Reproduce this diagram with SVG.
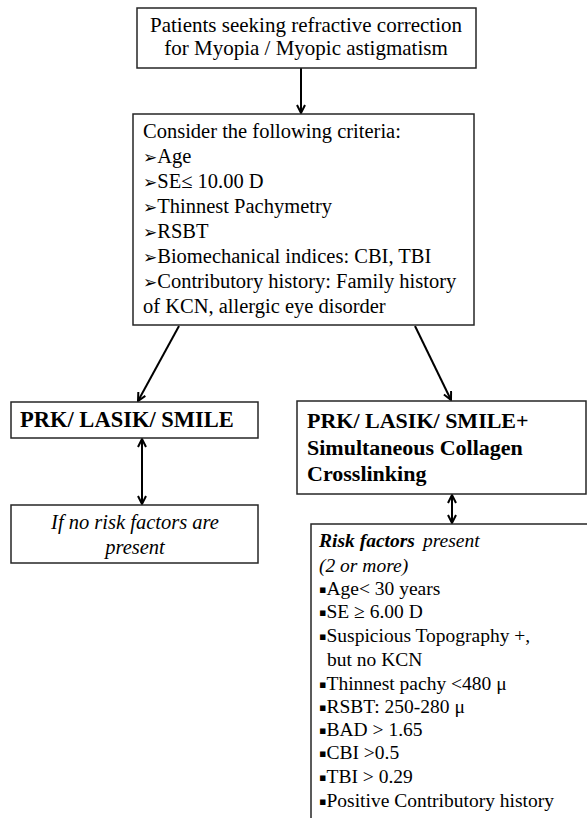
<svg xmlns="http://www.w3.org/2000/svg" width="587" height="818" viewBox="0 0 587 818">
<style>
.box{fill:#fff;stroke:#262626;stroke-width:1.5}
.t{fill:#000}
.b{font-weight:bold}
.i{font-style:italic}
.con{stroke:#000;stroke-width:2;fill:none}
</style>
<defs>
<marker id="ah" viewBox="0 0 10 10" refX="9" refY="5" markerWidth="10" markerHeight="10" markerUnits="userSpaceOnUse" orient="auto-start-reverse">
<path d="M1,1 L9,5 L1,9" fill="none" stroke="#000" stroke-width="2"/>
</marker>
</defs>
<rect width="587" height="818" fill="#fff"/>
<g id="connectors">
<line class="con" x1="301" y1="68" x2="301" y2="113" marker-end="url(#ah)"/>
<line class="con" x1="179" y1="326" x2="138" y2="401" marker-end="url(#ah)"/>
<line class="con" x1="415" y1="326" x2="451" y2="400" marker-end="url(#ah)"/>
<line class="con" x1="142" y1="439" x2="142" y2="504" marker-start="url(#ah)" marker-end="url(#ah)"/>
<line class="con" x1="452" y1="495" x2="452" y2="523" marker-start="url(#ah)" marker-end="url(#ah)"/>
</g>
<g id="start">
<rect class="box" x="137" y="8" width="339" height="60"/>
<text class="t" font-family="'Liberation Serif', 'Times New Roman', 'DejaVu Serif', serif" font-size="21" text-anchor="middle"><tspan x="306" y="32">Patients seeking refractive correction</tspan><tspan x="306" y="55">for Myopia / Myopic astigmatism</tspan></text>
</g>
<g id="criteria">
<rect class="box" x="133" y="114" width="341" height="211"/>
<text class="t" font-family="'Liberation Serif', 'Times New Roman', 'DejaVu Serif', serif" font-size="20.5">
<tspan x="143" y="138">Consider the following criteria:</tspan>
<tspan x="143" y="163"><tspan font-family="'DejaVu Sans', sans-serif" font-size="17">➢</tspan>Age</tspan>
<tspan x="143" y="188"><tspan font-family="'DejaVu Sans', sans-serif" font-size="17">➢</tspan>SE≤ 10.00 D</tspan>
<tspan x="143" y="213"><tspan font-family="'DejaVu Sans', sans-serif" font-size="17">➢</tspan>Thinnest Pachymetry</tspan>
<tspan x="143" y="238"><tspan font-family="'DejaVu Sans', sans-serif" font-size="17">➢</tspan>RSBT</tspan>
<tspan x="143" y="263"><tspan font-family="'DejaVu Sans', sans-serif" font-size="17">➢</tspan>Biomechanical indices: CBI, TBI</tspan>
<tspan x="143" y="288"><tspan font-family="'DejaVu Sans', sans-serif" font-size="17">➢</tspan>Contributory history: Family history</tspan>
<tspan x="143" y="313">of KCN, allergic eye disorder</tspan>
</text>
</g>
<g id="prk">
<rect class="box" x="11" y="402" width="247" height="36"/>
<text class="t b" font-family="'Liberation Serif', 'Times New Roman', 'DejaVu Serif', serif" font-size="22.5" x="20" y="427">PRK/ LASIK/ SMILE</text>
</g>
<g id="prk-cxl">
<rect class="box" x="297" y="401" width="289" height="93"/>
<text class="t b" font-family="'Liberation Serif', 'Times New Roman', 'DejaVu Serif', serif" font-size="22"><tspan x="307" y="428">PRK/ LASIK/ SMILE+</tspan><tspan x="307" y="455">Simultaneous Collagen</tspan><tspan x="307" y="481">Crosslinking</tspan></text>
</g>
<g id="no-risk">
<rect class="box" x="11" y="505" width="247" height="58"/>
<text class="t i" font-family="'Liberation Serif', 'Times New Roman', 'DejaVu Serif', serif" font-size="20.5" text-anchor="middle"><tspan x="135" y="529">If no risk factors are</tspan><tspan x="135" y="554">present</tspan></text>
</g>
<g id="risk">
<rect class="box" x="311" y="524" width="300" height="310"/>
<text class="t" font-family="'Liberation Serif', 'Times New Roman', 'DejaVu Serif', serif" font-size="19.5">
<tspan x="319" y="547" class="b i">Risk factors</tspan><tspan dx="8" class="i">present</tspan>
<tspan x="319" y="572" class="i">(2 or more)</tspan>
<tspan x="319" y="595"><tspan font-family="'DejaVu Sans', sans-serif" font-size="11" dy="-2">▪</tspan><tspan dy="2">Age&lt; 30 years</tspan></tspan>
<tspan x="319" y="618"><tspan font-family="'DejaVu Sans', sans-serif" font-size="11" dy="-2">▪</tspan><tspan dy="2">SE ≥ 6.00 D</tspan></tspan>
<tspan x="319" y="642"><tspan font-family="'DejaVu Sans', sans-serif" font-size="11" dy="-2">▪</tspan><tspan dy="2">Suspicious Topography +,</tspan></tspan>
<tspan x="327" y="666">but no KCN</tspan>
<tspan x="319" y="690"><tspan font-family="'DejaVu Sans', sans-serif" font-size="11" dy="-2">▪</tspan><tspan dy="2">Thinnest pachy &lt;480 μ</tspan></tspan>
<tspan x="319" y="713"><tspan font-family="'DejaVu Sans', sans-serif" font-size="11" dy="-2">▪</tspan><tspan dy="2">RSBT: 250-280 μ</tspan></tspan>
<tspan x="319" y="736"><tspan font-family="'DejaVu Sans', sans-serif" font-size="11" dy="-2">▪</tspan><tspan dy="2">BAD &gt; 1.65</tspan></tspan>
<tspan x="319" y="759"><tspan font-family="'DejaVu Sans', sans-serif" font-size="11" dy="-2">▪</tspan><tspan dy="2">CBI &gt;0.5</tspan></tspan>
<tspan x="319" y="783"><tspan font-family="'DejaVu Sans', sans-serif" font-size="11" dy="-2">▪</tspan><tspan dy="2">TBI &gt; 0.29</tspan></tspan>
<tspan x="319" y="807"><tspan font-family="'DejaVu Sans', sans-serif" font-size="11" dy="-2">▪</tspan><tspan dy="2">Positive Contributory history</tspan></tspan>
</text>
</g>
</svg>
